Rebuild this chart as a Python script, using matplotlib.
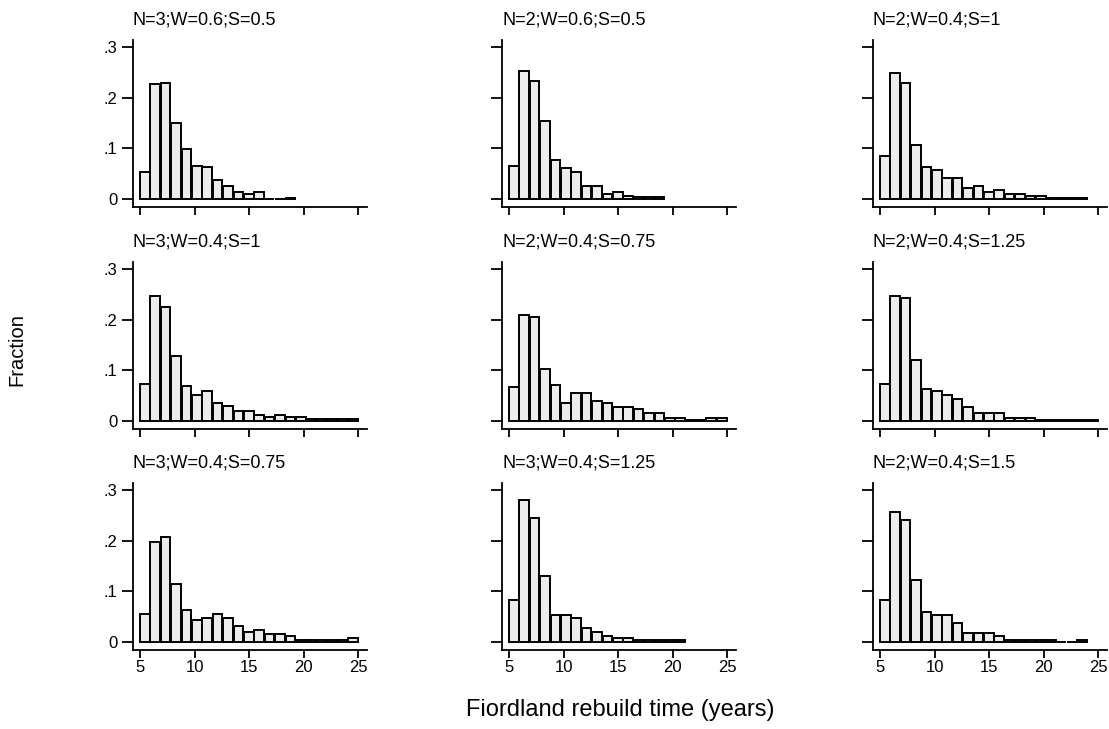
import numpy as np
import matplotlib
matplotlib.use("Agg")
import matplotlib.pyplot as plt

plt.rcParams['font.family'] = ['Liberation Sans', 'DejaVu Sans']

# panel titles, row by row
titles = ["N=3;W=0.6;S=0.5", "N=2;W=0.6;S=0.5", "N=2;W=0.4;S=1",
          "N=3;W=0.4;S=1", "N=2;W=0.4;S=0.75", "N=2;W=0.4;S=1.25",
          "N=3;W=0.4;S=0.75", "N=3;W=0.4;S=1.25", "N=2;W=0.4;S=1.5"]

# fraction per bin (21 bins of equal width from 5 to 25)
frac1 = [0.054, 0.226, 0.229, 0.150, 0.098, 0.066, 0.063, 0.039, 0.026, 0.015, 0.010, 0.015,
         0, 0, 0.003]
frac2 = [0.066, 0.252, 0.232, 0.153, 0.078, 0.062, 0.054, 0.026, 0.026, 0.010, 0.015, 0.007,
         0.004, 0.004, 0.004]
frac3 = [0.086, 0.249, 0.229, 0.106, 0.063, 0.058, 0.042, 0.042, 0.022, 0.026, 0.015, 0.018,
         0.010, 0.010, 0.006, 0.006, 0.003, 0.003, 0.003, 0.003]
frac4 = [0.074, 0.247, 0.224, 0.129, 0.070, 0.051, 0.059, 0.036, 0.031, 0.020, 0.020, 0.012,
         0.008, 0.012, 0.008, 0.008, 0.004, 0.004, 0.004, 0.004, 0.004]
frac5 = [0.067, 0.208, 0.204, 0.102, 0.071, 0.036, 0.055, 0.055, 0.040, 0.037, 0.029, 0.029,
         0.024, 0.016, 0.016, 0.006, 0.006, 0.003, 0.003, 0.006, 0.006]
frac6 = [0.074, 0.246, 0.243, 0.121, 0.063, 0.060, 0.052, 0.044, 0.029, 0.016, 0.016, 0.016,
         0.006, 0.006, 0.006, 0.003, 0.003, 0.003, 0.003, 0.003, 0.003]
frac7 = [0.056, 0.198, 0.206, 0.115, 0.064, 0.044, 0.048, 0.056, 0.048, 0.033, 0.021, 0.024,
         0.016, 0.016, 0.013, 0.004, 0.004, 0.004, 0.004, 0.004, 0.008]
frac8 = [0.083, 0.280, 0.244, 0.131, 0.053, 0.053, 0.048, 0.028, 0.020, 0.013, 0.008, 0.008,
         0.004, 0.004, 0.004, 0.004, 0.004]
frac9 = [0.083, 0.257, 0.241, 0.123, 0.060, 0.053, 0.053, 0.039, 0.018, 0.018, 0.018, 0.013,
         0.004, 0.004, 0.004, 0.004, 0.004, 0, 0, 0.004]

fracs = [frac1, frac2, frac3, frac4, frac5, frac6, frac7, frac8, frac9]

bin_start = 5
bin_width = 20 / 21

fig = plt.figure(figsize=(11.09, 7.29), dpi=100)
W, H = 1109, 729

# pixel positions of the panels (left, top) and size
lefts = [133, 502, 873]
tops = [40, 262, 483]
pw, ph = 234, 167

for i in range(9):
    r, c = divmod(i, 3)
    ax = fig.add_axes([lefts[c] / W, 1 - (tops[r] + ph) / H, pw / W, ph / H])
    vals = fracs[i]
    xs = bin_start + bin_width * np.arange(len(vals))
    ax.bar(xs, vals, width=bin_width * 0.93, align='edge', color='#ececec',
           edgecolor='black', linewidth=1.4)
    ax.set_xlim(4.36, 25.8)
    ax.set_ylim(-0.015, 0.313)
    ax.spines['top'].set_visible(False)
    ax.spines['right'].set_visible(False)
    ax.spines['left'].set_linewidth(1.3)
    ax.spines['bottom'].set_linewidth(1.3)
    ax.set_xticks([5, 10, 15, 20, 25])
    ax.set_yticks([0, 0.1, 0.2, 0.3])
    if c == 0:
        ax.set_yticklabels(['0', '.1', '.2', '.3'])
    else:
        ax.set_yticklabels([])
    if r == 2:
        ax.set_xticklabels(['5', '10', '15', '20', '25'])
    else:
        ax.set_xticklabels([])
    ax.tick_params(axis='y', length=8, width=1.3, labelsize=12, pad=3)
    ax.tick_params(axis='x', length=6, width=1.3, labelsize=12, pad=1)
    ax.set_title(titles[i], loc='left', fontsize=13, pad=11)

fig.text(17 / W, 1 - 350 / H, 'Fraction', rotation=90, ha='center', va='center', fontsize=14.5)
fig.text(620 / W, 1 - 710 / H, 'Fiordland rebuild time (years)', ha='center', va='center',
         fontsize=17)

fig.savefig('out.png', dpi=100)
